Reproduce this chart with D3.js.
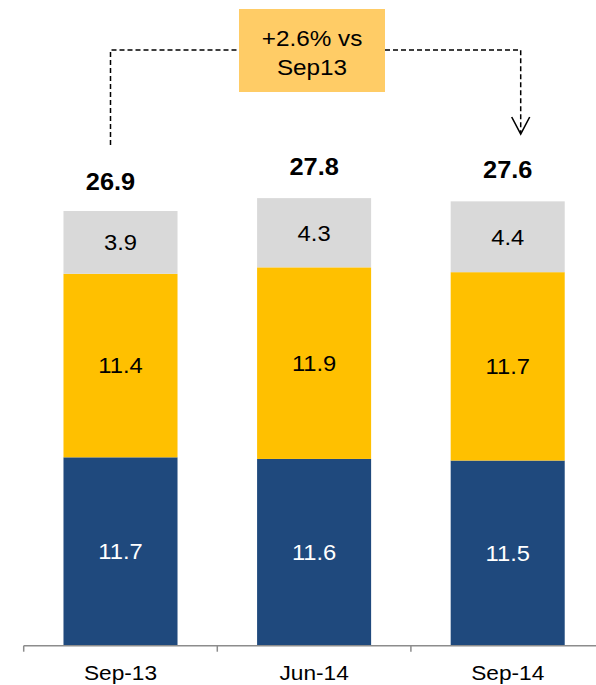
<!DOCTYPE html>
<html>
<head>
<meta charset="utf-8">
<script src="https://cdn.jsdelivr.net/npm/d3@7"></script>
<style>
  html, body { margin: 0; padding: 0; background: #fff; }
  svg { display: block; font-family: "Liberation Sans", Arial, sans-serif; }
</style>
</head>
<body>
<svg id="chart" width="596" height="685"></svg>
<script>
// Periods on the x axis
const categories = ["Sep-13", "Jun-14", "Sep-14"];
// Stacked components, bottom to top
const seriesBottom = [11.7, 11.6, 11.5];
const seriesMiddle = [11.4, 11.9, 11.7];
const seriesTop = [3.9, 4.3, 4.4];
// Totals printed above each bar
const totals = [26.9, 27.8, 27.6];
// Change call-out
const calloutLines = ["+2.6% vs", "Sep13"];

const colors = ["#1F497D", "#FFC000", "#D9D9D9"];
const textColors = ["#ffffff", "#000000", "#000000"];
// horizontal nudge of each total label (the first one sits left of the call-out line)
const totalNudge = [-10, 0, 0];
const WIDEN = 1.08;

const svg = d3.select("#chart");

// Text drawn slightly wide, anchored at its centre
function wideText(sel, fx, fy) {
  return sel
    .attr("text-anchor", "middle")
    .attr("transform", (d, i) => `translate(${fx(d, i)},${fy(d, i)}) scale(${WIDEN},1)`);
}

const x = d3.scaleBand()
  .domain(categories)
  .range([23.7, 604.5])
  .paddingInner(0.411)
  .paddingOuter(0.2055);

const y = d3.scaleLinear()
  .domain([0, 30])
  .range([645.7, 645.7 - 30 * 16.1]);

const rows = categories.map((c, i) => ({
  cat: c, b: seriesBottom[i], m: seriesMiddle[i], t: seriesTop[i]
}));
const layers = d3.stack().keys(["b", "m", "t"])(rows);

// Bars and segment values
const g = svg.append("g");
layers.forEach((layer, li) => {
  g.selectAll(null)
    .data(layer)
    .join("rect")
    .attr("x", d => x(d.data.cat))
    .attr("width", x.bandwidth())
    .attr("y", d => y(d[1]))
    .attr("height", d => y(d[0]) - y(d[1]))
    .attr("fill", colors[li]);

  g.selectAll(null)
    .data(layer)
    .join("text")
    .call(wideText,
      d => x(d.data.cat) + x.bandwidth() / 2,
      d => (y(d[0]) + y(d[1])) / 2)
    .attr("dy", "0.36em")
    .attr("font-size", 22)
    .attr("fill", textColors[li])
    .text(d => (d[1] - d[0]).toFixed(1));
});

// Totals
svg.selectAll(".total")
  .data(categories)
  .join("text")
  .attr("class", "total")
  .call(wideText,
    (c, i) => x(c) + x.bandwidth() / 2 + totalNudge[i],
    (c, i) => y(totals[i]) - 23)
  .attr("font-size", 23.5)
  .attr("font-weight", "bold")
  .attr("fill", "#000")
  .text((c, i) => totals[i].toFixed(1));

// X axis: baseline with ticks on band boundaries
const step = x.step();
const axisY = y(0);
const bounds = d3.range(categories.length).map(i => 23.7 + i * step);
svg.append("line")
  .attr("x1", bounds[0]).attr("x2", 596)
  .attr("y1", axisY).attr("y2", axisY)
  .attr("stroke", "#8c8c8c").attr("stroke-width", 1.5);
svg.selectAll(".tick")
  .data(bounds)
  .join("line")
  .attr("class", "tick")
  .attr("x1", d => d).attr("x2", d => d)
  .attr("y1", axisY).attr("y2", axisY + 6)
  .attr("stroke", "#8c8c8c").attr("stroke-width", 1.5);
svg.selectAll(".xlabel")
  .data(categories)
  .join("text")
  .attr("class", "xlabel")
  .call(wideText, c => x(c) + x.bandwidth() / 2, () => axisY + 34)
  .attr("font-size", 21)
  .attr("fill", "#000")
  .text(c => c);

// Call-out connector from the first to the last period
const xl = x(categories[0]) + x.bandwidth() / 2 - 10;
const xr = x(categories[2]) + x.bandwidth() / 2 + 13;
const lineY = 50;
const box = { x0: 239, x1: 385, y0: 9, y1: 92 };
const dash = "5,3";
svg.append("path")
  .attr("d", `M${xl},145 V${lineY} H${box.x0}`)
  .attr("fill", "none").attr("stroke", "#000")
  .attr("stroke-width", 1.5).attr("stroke-dasharray", dash);
svg.append("path")
  .attr("d", `M${box.x1},${lineY} H${xr} V133`)
  .attr("fill", "none").attr("stroke", "#000")
  .attr("stroke-width", 1.5).attr("stroke-dasharray", dash);
svg.append("path")
  .attr("d", `M${xr - 9},117 L${xr},134 L${xr + 9},117`)
  .attr("fill", "none").attr("stroke", "#000").attr("stroke-width", 1.6);

svg.append("rect")
  .attr("x", box.x0).attr("y", box.y0)
  .attr("width", box.x1 - box.x0).attr("height", box.y1 - box.y0)
  .attr("fill", "#FFCC66");
svg.selectAll(".callout")
  .data(calloutLines)
  .join("text")
  .attr("class", "callout")
  .call(wideText, () => (box.x0 + box.x1) / 2, (d, i) => 38 + i * 29)
  .attr("dy", "0.36em")
  .attr("font-size", 22.5)
  .attr("fill", "#000")
  .text(d => d);
</script>
</body>
</html>
